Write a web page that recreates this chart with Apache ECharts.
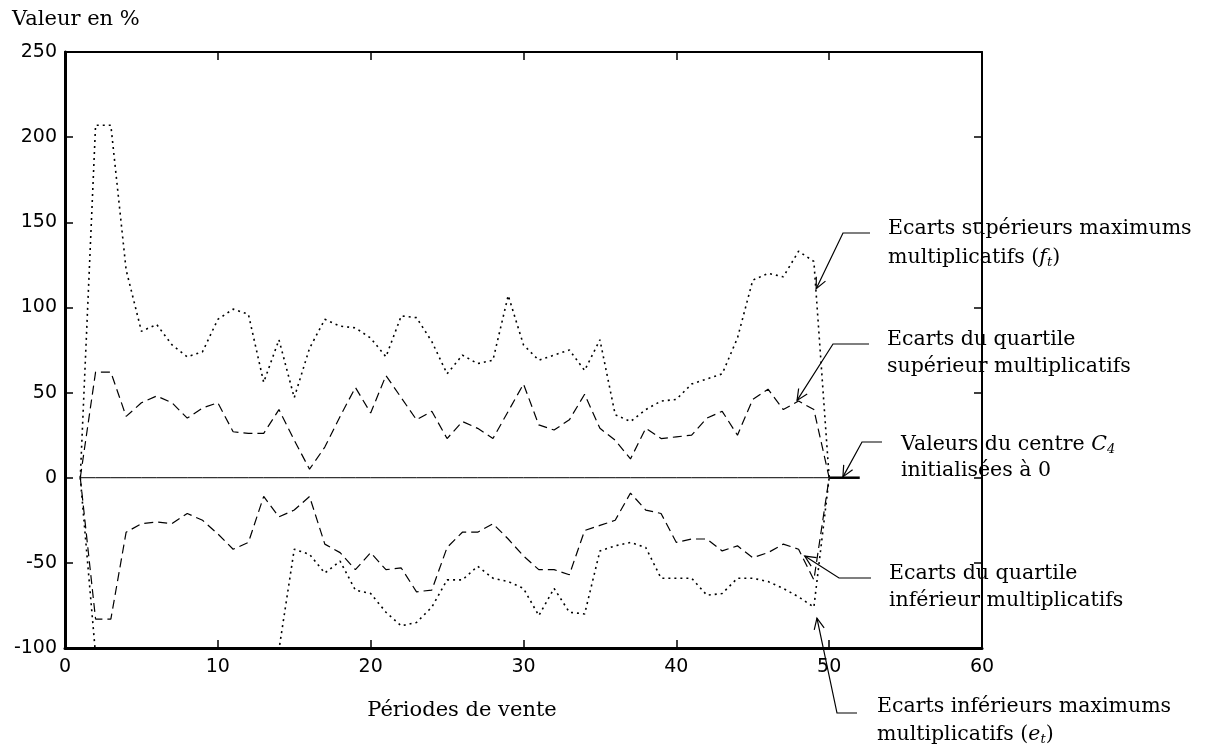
<!DOCTYPE html>
<html><head><meta charset="utf-8">
<script src="https://cdn.jsdelivr.net/npm/echarts@6/dist/echarts.min.js"></script>
<style>html,body{margin:0;padding:0;background:#fff}#c{width:1205px;height:749px}</style>
</head><body><div id="c"></div>
<script>
// ---- data ----
const periods = [1,2,3,4,5,6,7,8,9,10,11,12,13,14,15,16,17,18,19,20,21,22,23,24,25,26,27,28,29,30,31,32,33,34,35,36,37,38,39,40,41,42,43,44,45,46,47,48,49,50];
const upperMax = [0,207,207,122,86,90,78,71,74,93,99,96,56,81,47,76,93,89,88,82,71,95,94,80,61,72,67,69,107,78,69,72,75,63,81,37,33,40,45,46,55,58,61,82,116,120,118,133,127,0];
const upperQuartile = [0,62,62,36,44,48,44,35,41,44,27,26,26,40,22,5,18,36,53,38,60,47,34,39,23,33,29,23,39,55,31,28,34,49,29,22,11,29,23,24,25,35,39,25,46,52,40,45,40,0];
const centerC4 = [0,0,0,0,0,0,0,0,0,0,0,0,0,0,0,0,0,0,0,0,0,0,0,0,0,0,0,0,0,0,0,0,0,0,0,0,0,0,0,0,0,0,0,0,0,0,0,0,0,0];
const lowerQuartile = [0,-83,-83,-32,-27,-26,-27,-21,-25,-33,-42,-38,-11,-23,-19,-11,-39,-44,-54,-44,-54,-53,-67,-66,-41,-32,-32,-27,-36,-46,-54,-54,-57,-31,-28,-25,-9,-19,-21,-38,-36,-36,-43,-40,-47,-44,-39,-42,-60,0];
const lowerMax = [0,-104,-125,-130,-128,-126,-124,-127,-130,-132,-128,-125,-120,-101,-42,-45,-56,-49,-66,-68,-79,-87,-85,-76,-60,-60,-52,-59,-61,-65,-81,-65,-79,-80,-43,-40,-38,-41,-59,-59,-59,-69,-68,-59,-59,-61,-65,-70,-76,0];
const xRange = [0, 60, 10];
const yRange = [-100, 250, 50];
const yTitle = 'Valeur en %';
const xTitle = 'Périodes de vente';
// annotation tips in data coordinates
const notes = [
  {tip:[49.15,111], lines:['Ecarts supérieurs maximums','multiplicatifs ({i|f}{s|t})']},
  {tip:[47.9,45.4], lines:['Ecarts du quartile','supérieur multiplicatifs']},
  {tip:[50.9,0.5], lines:['Valeurs du centre {i|C}{s|4}','initialisées à 0']},
  {tip:[48.4,-46], lines:['Ecarts du quartile','inférieur multiplicatifs']},
  {tip:[49.2,-82.5], lines:['Ecarts inférieurs maximums','multiplicatifs ({i|e}{s|t})']}
];
// layout (pixels) for annotation text/leaders
const noteLayout = [
  {elbow:[843,233], hEnd:870, tx:888, ty:[229,258]},
  {elbow:[833,344], hEnd:869, tx:887, ty:[340,367]},
  {elbow:[862,442], hEnd:882, tx:901, ty:[445,471]},
  {elbow:[839,578], hEnd:871, tx:889, ty:[574,601]},
  {elbow:[837,713], hEnd:857, tx:877, ty:[707,735]}
];

const pair = arr => periods.map((p,i)=>[p, arr[i]]);
const SERIF = '"DejaVu Serif", "Liberation Serif", serif';
const SANS = '"DejaVu Sans", "Liberation Sans", sans-serif';

const chart = echarts.init(document.getElementById('c'), null, {renderer:'canvas'});
const lineS = (name, data, type, width) => ({
  name, type:'line', data: pair(data), symbol:'none', animation:false,
  xAxisIndex:0, yAxisIndex:0,
  lineStyle:{color:'#000', width, type}
});
const axisCommon = {
  type:'value', splitLine:{show:false}, axisTick:{inside:true, length:8, lineStyle:{color:'#000', width:1.5}}
};
chart.setOption({
  animation:false,
  backgroundColor:'#fff',
  grid:{left:65, top:52, right:223, bottom:101},
  xAxis:[
    Object.assign({}, axisCommon, {position:'bottom', min:xRange[0], max:xRange[1], interval:xRange[2],
      axisLine:{onZero:false, lineStyle:{color:'#000', width:3}},
      axisLabel:{color:'#000', fontFamily:SANS, fontSize:19, margin:10}}),
    Object.assign({}, axisCommon, {position:'top', min:xRange[0], max:xRange[1], interval:xRange[2],
      axisLine:{onZero:false, lineStyle:{color:'#000', width:2}}, axisLabel:{show:false}})
  ],
  yAxis:[
    Object.assign({}, axisCommon, {position:'left', min:yRange[0], max:yRange[1], interval:yRange[2],
      axisLine:{show:true, onZero:false, lineStyle:{color:'#000', width:3}},
      axisLabel:{color:'#000', fontFamily:SANS, fontSize:19, margin:8}}),
    Object.assign({}, axisCommon, {position:'right', min:yRange[0], max:yRange[1], interval:yRange[2],
      axisLine:{show:true, onZero:false, lineStyle:{color:'#000', width:2}}, axisLabel:{show:false}})
  ],
  series:[
    lineS('C4', centerC4, 'solid', 1),
    lineS('upperMax', upperMax, [2,4], 1.6),
    lineS('lowerMax', lowerMax, [2,4], 1.6),
    lineS('upperQuartile', upperQuartile, [9,5], 1.2),
    lineS('lowerQuartile', lowerQuartile, [9,5], 1.2)
  ]
});

function buildGraphics(){
  const els = [];
  const FS = 20.5;
  const rich = {
    i:{fontStyle:'italic', fontFamily:SERIF, fontSize:FS, fill:'#000'},
    s:{fontStyle:'italic', fontFamily:SERIF, fontSize:13, fill:'#000', padding:[10,0,0,0]}
  };
  // titles
  els.push({type:'text', style:{text:yTitle, x:12, y:20, verticalAlign:'middle', font:'21px ' + SERIF, fill:'#000'}});
  els.push({type:'text', style:{text:xTitle, x:462, y:711, align:'center', verticalAlign:'middle', font:'21px ' + SERIF, fill:'#000'}});
  // thicker end of the center line
  const c0 = chart.convertToPixel({seriesIndex:0}, [50,0]);
  const c1 = chart.convertToPixel({seriesIndex:0}, [52,0]);
  els.push({type:'line', shape:{x1:c0[0], y1:c0[1], x2:c1[0], y2:c1[1]}, style:{stroke:'#000', lineWidth:2.5}});
  notes.forEach((n, k) => {
    const L = noteLayout[k];
    const tip = chart.convertToPixel({seriesIndex:0}, n.tip);
    const e = L.elbow;
    els.push({type:'polyline', shape:{points:[[L.hEnd, e[1]], e, tip]}, style:{stroke:'#000', lineWidth:1.2, fill:null}});
    const dx = tip[0]-e[0], dy = tip[1]-e[1], len = Math.hypot(dx,dy);
    const ux = dx/len, uy = dy/len, a = 25*Math.PI/180, al = 12;
    const arm = s => [tip[0] - al*(ux*Math.cos(a) - s*uy*Math.sin(a)), tip[1] - al*(uy*Math.cos(a) + s*ux*Math.sin(a))];
    els.push({type:'polyline', shape:{points:[arm(1), tip, arm(-1)]}, style:{stroke:'#000', lineWidth:1.2, fill:null}});
    n.lines.forEach((t, j) => {
      els.push({type:'text', style:{text:t, x:L.tx, y:L.ty[j], verticalAlign:'middle', font:FS + 'px ' + SERIF, fill:'#000', rich}});
    });
  });
  chart.setOption({graphic:{elements:els}});
}
buildGraphics();
</script>
</body></html>
